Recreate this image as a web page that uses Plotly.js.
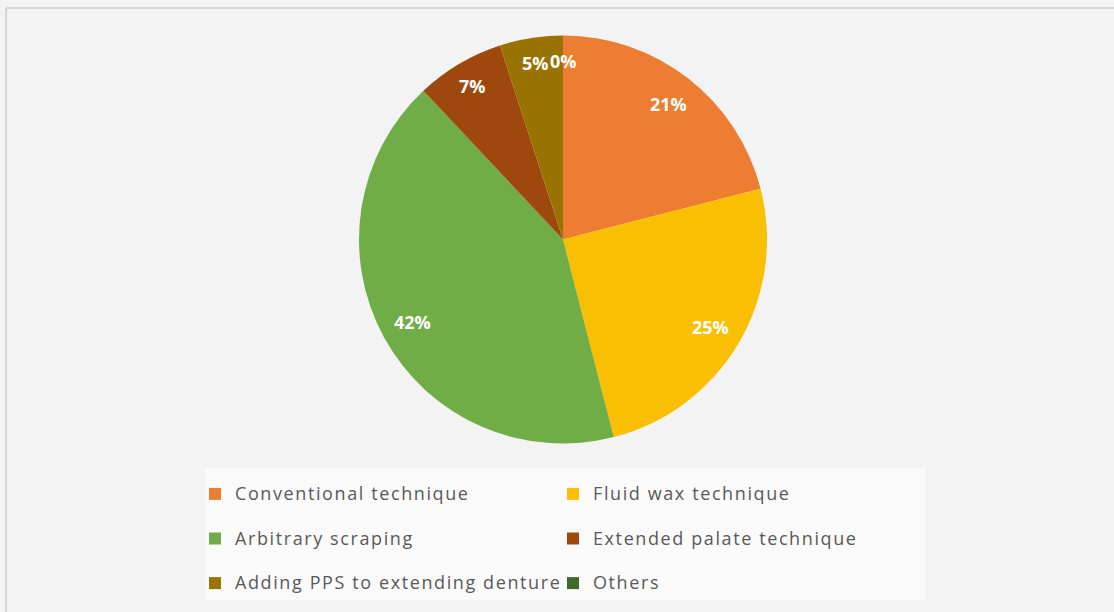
<!DOCTYPE html>
<html>
<head>
<meta charset="utf-8">
<script src="https://cdn.plot.ly/plotly-3.0.1.min.js"></script>
<style>
  html, body { margin: 0; padding: 0; background: #f3f3f3; }
  #chart { width: 1114px; height: 612px; }
  .legendtext { letter-spacing: 1.6px; }
</style>
</head>
<body>
<div id="chart"></div>
<script>
// ---- data ----
const categories = [
  "Conventional technique",
  "Fluid wax technique",
  "Arbitrary scraping",
  "Extended palate technique",
  "Adding PPS to extending denture",
  "Others"
];
const values = [21, 25, 42, 7, 5, 0];
const colors = ["#ED7D31", "#FABF00", "#70AD47", "#9E480E", "#997300", "#43682B"];

// ---- layout constants ----
const W = 1114, H = 612;
const MR = 200;              // right margin (keeps the legend at two columns)
const PW = W - MR;           // plot-area width in px
const cx = 563, cy = 239.5, R = 204;
const fx = px => px / PW;    // pixel x -> paper x
const fy = py => (H - py) / H;

const total = values.reduce((a, b) => a + b, 0);

const pie = {
  type: "pie",
  labels: categories.map(c => '<span style="font-size:18px">' + c + '</span><br> '),
  values: values,
  sort: false,
  direction: "clockwise",
  rotation: 0,
  textinfo: "none",
  hoverinfo: "label+percent",
  marker: { colors: colors, line: { width: 0 } },
  domain: { x: [fx(cx - R), fx(cx + R)], y: [fy(cy + R), fy(cy - R)] },
  showlegend: true
};

// percentage labels placed along each slice's bisector
let cum = 0;
const annotations = values.map(v => {
  const mid = (cum + v / 2) / total;
  cum += v;
  const th = mid * 2 * Math.PI;
  const k = (v / total) < 0.1 ? 0.875 : 0.84;
  const px = cx + k * R * Math.sin(th);
  const py = cy - k * R * Math.cos(th);
  return {
    xref: "paper", yref: "paper",
    x: fx(px), y: fy(py),
    xanchor: "center", yanchor: "middle",
    text: Math.round(v / total * 100) + "%",
    showarrow: false,
    font: { family: "Open Sans", size: 18, color: "#ffffff", weight: 700 }
  };
});

const layout = {
  width: W, height: H,
  margin: { l: 0, r: MR, t: 0, b: 0, autoexpand: false },
  paper_bgcolor: "#f3f3f3",
  plot_bgcolor: "#f3f3f3",
  showlegend: true,
  legend: {
    orientation: "h",
    xref: "container", yref: "container",
    x: 195 / W, xanchor: "left",
    y: (H - 477) / H, yanchor: "top",
    entrywidth: 313,
    entrywidthmode: "pixels",
    valign: "top",
    bgcolor: "rgba(0,0,0,0)",
    font: { family: "Open Sans", size: 16, color: "#595959" },
    traceorder: "normal"
  },
  annotations: annotations,
  shapes: [
    { type: "rect", xref: "paper", yref: "paper", layer: "below",
      x0: fx(205), x1: fx(925), y0: fy(600), y1: fy(468),
      fillcolor: "#fafafa", line: { width: 0 } },
    { type: "line", xref: "paper", yref: "paper", x0: fx(6), x1: fx(W), y0: fy(8), y1: fy(8),
      line: { color: "#d6d6d6", width: 2 } },
    { type: "line", xref: "paper", yref: "paper", x0: fx(6), x1: fx(6), y0: fy(H), y1: fy(8),
      line: { color: "#d6d6d6", width: 2 } }
  ]
};

Plotly.newPlot("chart", [pie], layout, { displayModeBar: false, staticPlot: true });
</script>
</body>
</html>
